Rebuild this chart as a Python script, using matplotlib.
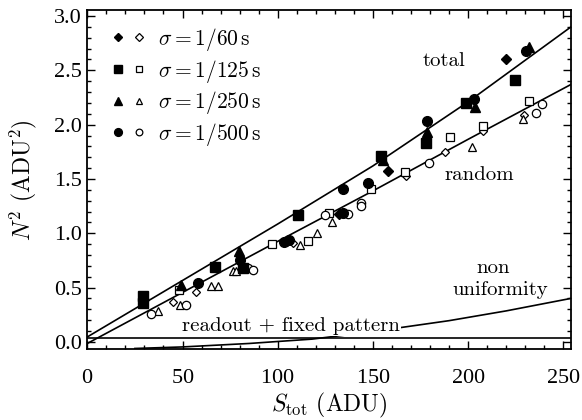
import matplotlib
matplotlib.use('Agg')
import matplotlib.pyplot as plt
from matplotlib.legend_handler import HandlerTuple

plt.rcParams['font.family'] = ['cmr10', 'DejaVu Serif']
plt.rcParams['mathtext.fontset'] = 'cm'
plt.rcParams['axes.formatter.use_mathtext'] = True

# --- datos ---
# sigma = 1/60 s  (rombos)
s60_tot = [104.7, 132.0, 158.0, 220.0]
n60_tot = [0.93, 1.18, 1.572, 2.60]
s60_ran = [44.9, 57.3, 108.0, 167.5, 188.0, 208.0, 229.2]
n60_ran = [0.366, 0.46, 0.91, 1.526, 1.75, 1.94, 2.085]

# sigma = 1/125 s  (cuadrados)
s125_tot = [29.3, 29.3, 67.0, 82.0, 110.6, 154.3, 178.0, 199.0, 224.7]
n125_tot = [0.42, 0.36, 0.685, 0.68, 1.17, 1.71, 1.827, 2.20, 2.41]
s125_ran = [48.0, 97.2, 115.9, 126.9, 149.0, 166.6, 190.3, 207.7, 232.2]
n125_ran = [0.476, 0.905, 0.927, 1.182, 1.403, 1.56, 1.89, 1.99, 2.22]

# sigma = 1/250 s  (triangulos)
s250_tot = [49.4, 79.7, 155.2, 178.3, 203.5, 232.0]
n250_tot = [0.52, 0.835, 1.673, 1.93, 2.16, 2.715]
s250_ran = [37.2, 48.6, 65.2, 68.6, 76.5, 78.3, 111.9, 120.4, 128.6, 202.2, 228.8]
n250_ran = [0.285, 0.338, 0.51, 0.51, 0.655, 0.655, 0.89, 0.998, 1.105, 1.796, 2.05]

# sigma = 1/500 s  (circulos)
s500_tot = [58.3, 80.0, 103.5, 106.0, 134.5, 134.3, 147.6, 178.3, 203.0, 230.4]
n500_tot = [0.54, 0.75, 0.92, 0.935, 1.19, 1.403, 1.46, 2.035, 2.24, 2.68]
s500_ran = [33.3, 51.8, 84.5, 87.2, 124.6, 136.8, 143.5, 143.5, 179.7, 235.5, 238.7]
n500_ran = [0.26, 0.338, 0.68, 0.66, 1.167, 1.18, 1.28, 1.255, 1.643, 2.11, 2.187]

# curvas de ajuste (puntos leidos)
s_total = [0, 50, 100, 150, 200, 254]
n_total = [0.045, 0.565, 1.085, 1.62, 2.21, 2.90]
s_random = [0, 50, 100, 150, 200, 254]
n_random = [-0.015, 0.455, 0.925, 1.39, 1.865, 2.37]
s_nonuni = [25, 50, 85, 118, 140, 162, 190, 220, 254]
n_nonuni = [-0.061, -0.047, -0.015, 0.025, 0.072, 0.125, 0.195, 0.285, 0.40]
s_readout = [0, 254]
n_readout = [0.037, 0.037]

labels = [r'$\sigma = 1/60\,\mathrm{s}$', r'$\sigma = 1/125\,\mathrm{s}$',
          r'$\sigma = 1/250\,\mathrm{s}$', r'$\sigma = 1/500\,\mathrm{s}$']

fig = plt.figure(figsize=(5.82, 4.2), dpi=100)
ax = fig.add_axes([0.150, 0.168, 0.831, 0.808])

ax.plot(s_total, n_total, color='black', lw=1.2, zorder=2)
ax.plot(s_random, n_random, color='black', lw=1.2, zorder=2)
ax.plot(s_nonuni, n_nonuni, color='black', lw=1.2, zorder=2)
ax.plot(s_readout, n_readout, color='black', lw=1.2, zorder=5)

grupos = [
    ('D', 5.0, 4.5, s60_tot, n60_tot, s60_ran, n60_ran),
    ('s', 6.5, 5.5, s125_tot, n125_tot, s125_ran, n125_ran),
    ('^', 7.0, 6.0, s250_tot, n250_tot, s250_ran, n250_ran),
    ('o', 7.0, 6.0, s500_tot, n500_tot, s500_ran, n500_ran),
]
handles = []
for m, ms_f, ms_o, sx, sy, rx, ry in grupos:
    hf, = ax.plot(sx, sy, ls='none', marker=m, ms=ms_f, mfc='black',
                  mec='black', zorder=4)
    ho, = ax.plot(rx, ry, ls='none', marker=m, ms=ms_o, mfc='white',
                  mec='black', mew=0.9, zorder=3)
    handles.append((hf, ho))

ax.legend(handles, labels, loc='upper left', bbox_to_anchor=(0.032, 0.979),
          frameon=False, fontsize=15.5,
          handler_map={tuple: HandlerTuple(ndivide=None, pad=0.3)},
          handlelength=1.6, handletextpad=0.55, labelspacing=0.22,
          markerscale=0.8, borderaxespad=0.0)

fs = 15
ax.text(187.3, 2.54, 'total', fontsize=fs, ha='center', va='baseline')
ax.text(205.7, 1.49, 'random', fontsize=fs, ha='center', va='baseline')
ax.text(213.0, 0.635, 'non', fontsize=fs, ha='center', va='baseline')
ax.text(216.7, 0.43, 'uniformity', fontsize=fs, ha='center', va='baseline')
ax.text(49.7, 0.10, 'readout + fixed pattern', fontsize=fs, ha='left',
        va='baseline', zorder=3,
        bbox=dict(facecolor='white', edgecolor='none', pad=1.0))

ax.set_xlim(0, 254)
ax.set_ylim(-0.07, 3.055)
ax.set_xticks([0, 50, 100, 150, 200, 250])
ax.set_yticks([0.0, 0.5, 1.0, 1.5, 2.0, 2.5, 3.0])
ax.set_yticklabels(['0.0', '0.5', '1.0', '1.5', '2.0', '2.5', '3.0'])
ax.xaxis.set_minor_locator(matplotlib.ticker.MultipleLocator(10))
ax.yaxis.set_minor_locator(matplotlib.ticker.MultipleLocator(0.1))
ax.tick_params(which='both', direction='in', top=True, right=True,
               labelsize=16, width=1.0)
ax.tick_params(which='major', length=6)
ax.tick_params(which='minor', length=3)
ax.tick_params(axis='x', which='major', pad=14)
ax.tick_params(axis='y', which='major', pad=4)
for lab in ax.get_xticklabels() + ax.get_yticklabels():
    lab.set_family(['Liberation Serif', 'DejaVu Serif'])
for sp in ax.spines.values():
    sp.set_linewidth(1.3)

ax.set_xlabel(r'$S_{\rm tot}$ (ADU)', fontsize=17, labelpad=2)
ax.set_ylabel(r'$N^2$ (ADU$^2$)', fontsize=17, labelpad=11)

plt.savefig('out.png', dpi=100)
plt.close()
